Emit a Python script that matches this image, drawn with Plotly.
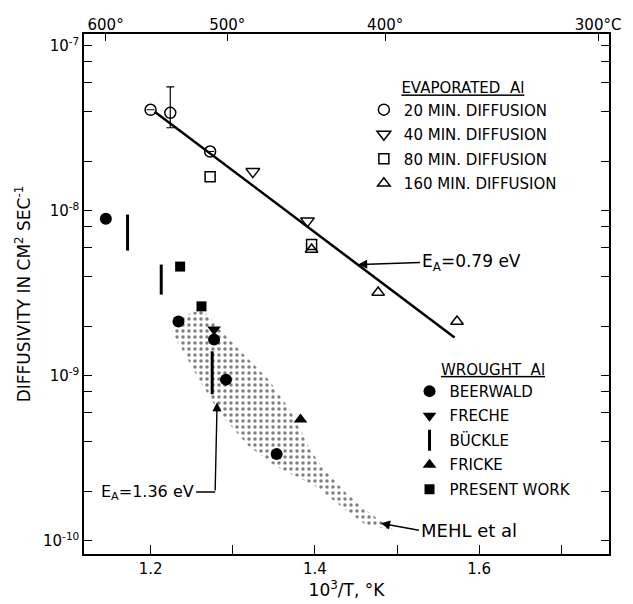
import numpy as np
import plotly.graph_objects as go

# ---------------- data (x = 10^3/T in 1/K, y = diffusivity cm^2/s) ----------------
EVAP20_X = [1.200, 1.224, 1.2725]
EVAP20_Y = [4.10e-8, 3.93e-8, 2.29e-8]
EVAP20_TOP = [None, 5.65e-8, None]     # error bar upper end
EVAP20_BOT = [None, 3.19e-8, None]     # error bar lower end

EVAP40_X = [1.3245, 1.391]
EVAP40_Y = [1.73e-8, 8.7e-9]

EVAP80_X = [1.2725, 1.396]
EVAP80_Y = [1.61e-8, 6.25e-9]

EVAP160_X = [1.396, 1.477, 1.573]
EVAP160_Y = [5.83e-9, 3.20e-9, 2.14e-9]

FIT_X = [1.205, 1.570]
FIT_Y = [3.99e-8, 1.71e-9]

BEER_X = [1.1456, 1.234, 1.2773, 1.2918, 1.3535]
BEER_Y = [8.97e-9, 2.14e-9, 1.66e-9, 9.5e-10, 3.36e-10]

FRECHE_X = [1.2773]
FRECHE_Y = [1.91e-9]

FRICKE_X = [1.3825]
FRICKE_Y = [5.45e-10]

PRESENT_X = [1.236, 1.262]
PRESENT_Y = [4.60e-9, 2.64e-9]

BUCKLE_X = [1.172, 1.213, 1.275]
BUCKLE_LO = [5.75e-9, 3.11e-9, 7.75e-10]
BUCKLE_HI = [9.5e-9, 4.73e-9, 1.41e-9]

MEHL_X = [1.2266, 1.2592, 1.2834, 1.3196, 1.3523, 1.4006, 1.4405, 1.4647, 1.4949,
          1.4647, 1.4369, 1.4079, 1.3921, 1.3716, 1.3438, 1.3039, 1.2628, 1.2350]
MEHL_Y = [1.84e-9, 9.5e-10, 6.03e-10, 3.75e-10, 2.84e-10, 2.15e-10, 1.50e-10, 1.23e-10, 1.18e-10,
          1.50e-10, 1.98e-10, 2.84e-10, 3.75e-10, 6.03e-10, 9.5e-10, 1.51e-9, 2.53e-9, 2.26e-9]

# annotation pointer targets
EA079_TIP = (1.4526, 4.73e-9)
EA136_TIP = (1.281, 6.92e-10)
EA136_ELBOW = (1.2786, 1.98e-10)
MEHL_TIP = (1.4804, 1.28e-10)

X_RANGE = [1.119, 1.758]
Y_RANGE = [1e-10 / 1.199, 1.18e-7]
X_TICKS = [1.2, 1.4, 1.6]
X_MINOR = [1.3, 1.5, 1.7]
Y_TICKS = [1e-10, 1e-9, 1e-8, 1e-7]
Y_TICKTEXT = ["10<sup>-10</sup>", "10<sup>-9</sup>", "10<sup>-8</sup>", "10<sup>-7</sup>"]
TOP_T_C = [600, 500, 400, 300]
TOP_TEXT = ["600°", "500°", "400°", "300°C"]

FONT = "DejaVu Sans"
BLACK = "black"

fig = go.Figure()

# Mehl et al. stippled band
fig.add_trace(go.Scatter(
    x=MEHL_X, y=MEHL_Y, mode="lines", fill="toself", line=dict(width=0, color="rgba(0,0,0,0)"),
    fillcolor="rgba(255,255,255,0)",
    fillpattern=dict(shape=".", fgcolor=BLACK, bgcolor="rgba(255,255,255,0)", size=6, solidity=0.27),
    showlegend=False, hoverinfo="skip"))

# fit line
fig.add_trace(go.Scatter(x=FIT_X, y=FIT_Y, mode="lines", line=dict(color=BLACK, width=2.5),
                         showlegend=False, hoverinfo="skip"))

err_plus = [None if t is None else t - y for t, y in zip(EVAP20_TOP, EVAP20_Y)]
err_minus = [None if b is None else y - b for b, y in zip(EVAP20_BOT, EVAP20_Y)]

mk_line = dict(color=BLACK, width=1.5)
fig.add_trace(go.Scatter(
    x=EVAP20_X, y=EVAP20_Y, mode="markers", name="20 MIN. DIFFUSION", legend="legend",
    legendgroup="e20",
    marker=dict(symbol="circle-open", size=11, color=BLACK, line=mk_line),
    error_y=dict(type="data", symmetric=False, array=err_plus, arrayminus=err_minus,
                 color=BLACK, thickness=1.2, width=4)))
fig.add_trace(go.Scatter(
    x=EVAP40_X, y=EVAP40_Y, mode="markers", name="40 MIN. DIFFUSION", legend="legend",
    legendgroup="e40",
    marker=dict(symbol="triangle-down-open", size=12, color=BLACK, line=mk_line)))
fig.add_trace(go.Scatter(
    x=EVAP80_X, y=EVAP80_Y, mode="markers", name="80 MIN. DIFFUSION", legend="legend",
    legendgroup="e80",
    marker=dict(symbol="square-open", size=10, color=BLACK, line=mk_line)))
fig.add_trace(go.Scatter(
    x=EVAP160_X, y=EVAP160_Y, mode="markers", name="160 MIN. DIFFUSION", legend="legend",
    legendgroup="e160",
    marker=dict(symbol="triangle-up-open", size=11, color=BLACK, line=mk_line)))

# wrought Al
fig.add_trace(go.Scatter(
    x=BEER_X, y=BEER_Y, mode="markers", name="BEERWALD", legend="legend2", legendgroup="w1",
    marker=dict(symbol="circle", size=12, color=BLACK)))
fig.add_trace(go.Scatter(
    x=FRECHE_X, y=FRECHE_Y, mode="markers", name="FRECHE", legend="legend2", legendgroup="w2",
    marker=dict(symbol="triangle-down", size=12, color=BLACK)))

bx, by = [], []
for x, lo, hi in zip(BUCKLE_X, BUCKLE_LO, BUCKLE_HI):
    bx += [x, x, None]
    by += [lo, hi, None]
fig.add_trace(go.Scatter(x=bx, y=by, mode="lines", line=dict(color=BLACK, width=3),
                         legend="legend2", legendgroup="w3", showlegend=False, hoverinfo="skip"))
fig.add_trace(go.Scatter(
    x=[None], y=[None], mode="markers", name="BÜCKLE", legend="legend2", legendgroup="w3",
    marker=dict(symbol="line-ns-open", size=15, color=BLACK, line=dict(color=BLACK, width=3))))

fig.add_trace(go.Scatter(
    x=FRICKE_X, y=FRICKE_Y, mode="markers", name="FRICKE", legend="legend2", legendgroup="w4",
    marker=dict(symbol="triangle-up", size=12, color=BLACK)))
fig.add_trace(go.Scatter(
    x=PRESENT_X, y=PRESENT_Y, mode="markers", name="PRESENT WORK", legend="legend2", legendgroup="w5",
    marker=dict(symbol="square", size=10, color=BLACK)))

# temperature scale (top axis) carrier trace
top_vals = [1000.0 / (t + 273.15) for t in TOP_T_C]
fig.add_trace(go.Scatter(x=top_vals, y=[None] * len(top_vals), xaxis="x2", yaxis="y",
                         mode="markers", showlegend=False, hoverinfo="skip"))

# ---------------- annotations ----------------
arrow = dict(showarrow=True, arrowhead=2, arrowsize=1.3, arrowwidth=1.4, arrowcolor=BLACK)
annotations = [
    dict(x=EA079_TIP[0], y=np.log10(EA079_TIP[1]), xref="x", yref="y",
         text="E<sub>A</sub>=0.79 eV", ax=62, ay=-2, xanchor="left", yanchor="middle",
         font=dict(family=FONT, size=17, color=BLACK), **arrow),
    dict(x=EA136_ELBOW[0], y=np.log10(EA136_ELBOW[1]), xref="x", yref="y",
         text="E<sub>A</sub>=1.36 eV", ax=-19, ay=0, xanchor="right", yanchor="middle",
         showarrow=True, arrowhead=0, arrowwidth=1.4, arrowcolor=BLACK,
         font=dict(family=FONT, size=16, color=BLACK)),
    dict(x=EA136_TIP[0], y=np.log10(EA136_TIP[1]), xref="x", yref="y", text="",
         ax=EA136_ELBOW[0], ay=np.log10(EA136_ELBOW[1]), axref="x", ayref="y", **arrow),
    dict(x=MEHL_TIP[0], y=np.log10(MEHL_TIP[1]), xref="x", yref="y",
         text="MEHL et al", ax=38, ay=7, xanchor="left", yanchor="middle",
         font=dict(family=FONT, size=18, color=BLACK), **arrow),
]

axis_common = dict(showgrid=False, zeroline=False, linecolor=BLACK, linewidth=1.5,
                   tickcolor=BLACK, tickwidth=1.3, tickfont=dict(family=FONT, size=15, color=BLACK))

fig.update_layout(
    width=633, height=604,
    margin=dict(l=84, r=20, t=34, b=49),
    paper_bgcolor="white", plot_bgcolor="white",
    font=dict(family=FONT, color=BLACK),
    annotations=annotations,
    xaxis=dict(range=X_RANGE, tickvals=X_TICKS, ticktext=["1.2", "1.4", "1.6"],
               ticks="inside", ticklen=9, mirror=True, showline=True,
               minor=dict(tickvals=X_MINOR, ticks="inside", ticklen=9, tickcolor=BLACK, tickwidth=1.3),
               title=dict(text="10<sup>3</sup>/T, °K", font=dict(family=FONT, size=17, color=BLACK),
                          standoff=2),
               **axis_common),
    xaxis2=dict(range=X_RANGE, overlaying="x", side="top", anchor="y",
                tickvals=top_vals, ticktext=TOP_TEXT, ticks="inside", ticklen=7,
                showline=False, showgrid=False, zeroline=False,
                tickcolor=BLACK, tickwidth=1.3, tickfont=dict(family=FONT, size=15, color=BLACK)),
    yaxis=dict(type="log", range=[np.log10(Y_RANGE[0]), np.log10(Y_RANGE[1])],
               tickvals=Y_TICKS, ticktext=Y_TICKTEXT, ticks="inside", ticklen=8,
               mirror="allticks", showline=True,
               minor=dict(tickvals=[m * 10.0 ** e for e in (-10, -9, -8) for m in (2, 4, 6, 8)],
                          ticks="inside", ticklen=6, tickcolor=BLACK, tickwidth=1.2),
               title=dict(text="DIFFUSIVITY IN CM<sup>2</sup> SEC<sup>-1</sup>",
                          font=dict(family=FONT, size=17, color=BLACK), standoff=8),
               **axis_common),
    legend=dict(x=(366 - 84) / 529, y=(555 - 74) / 521, xanchor="left", yanchor="top",
                bgcolor="rgba(0,0,0,0)", borderwidth=0, tracegroupgap=2,
                title=dict(text="<u>EVAPORATED  Al</u>", side="top center",
                           font=dict(family=FONT, size=15, color=BLACK)),
                font=dict(family=FONT, size=15, color=BLACK)),
    legend2=dict(x=(412 - 84) / 529, y=(555 - 356) / 521, xanchor="left", yanchor="top",
                 bgcolor="rgba(0,0,0,0)", borderwidth=0, tracegroupgap=2,
                 title=dict(text="<u>WROUGHT  Al</u>", side="top center",
                            font=dict(family=FONT, size=15, color=BLACK)),
                 font=dict(family=FONT, size=15, color=BLACK)),
)

fig.write_html("out.html")
